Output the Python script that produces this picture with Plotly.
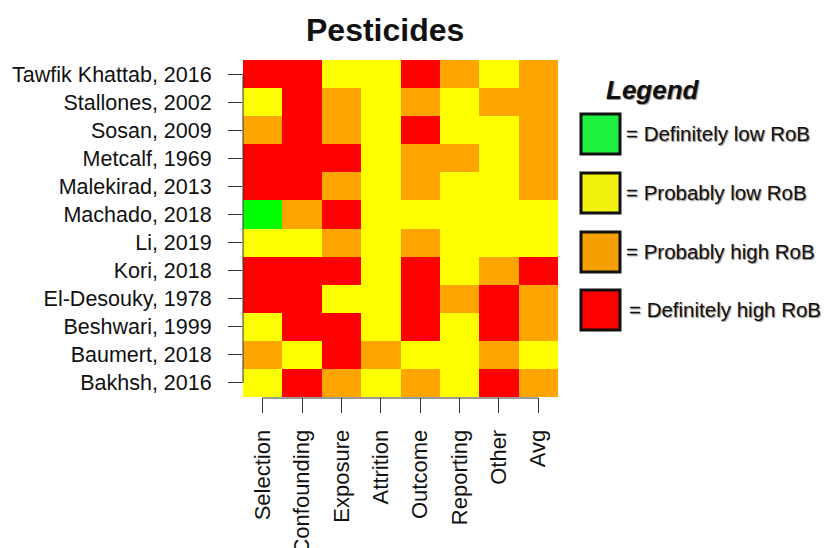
import plotly.graph_objects as go

# Data
studies = ["Tawfik Khattab, 2016", "Stallones, 2002", "Sosan, 2009", "Metcalf, 1969",
           "Malekirad, 2013", "Machado, 2018", "Li, 2019", "Kori, 2018",
           "El-Desouky, 1978", "Beshwari, 1999", "Baumert, 2018", "Bakhsh, 2016"]
domains = ["Selection", "Confounding", "Exposure", "Attrition", "Outcome",
           "Reporting", "Other", "Avg"]
# 1 = Definitely low, 2 = Probably low, 3 = Probably high, 4 = Definitely high
ratings = [
    [4, 4, 2, 2, 4, 3, 2, 3],
    [2, 4, 3, 2, 3, 2, 3, 3],
    [3, 4, 3, 2, 4, 2, 2, 3],
    [4, 4, 4, 2, 3, 3, 2, 3],
    [4, 4, 3, 2, 3, 2, 2, 3],
    [1, 3, 4, 2, 2, 2, 2, 2],
    [2, 2, 3, 2, 3, 2, 2, 2],
    [4, 4, 4, 2, 4, 2, 3, 4],
    [4, 4, 2, 2, 4, 3, 4, 3],
    [2, 4, 4, 2, 4, 2, 4, 3],
    [3, 2, 4, 3, 2, 2, 3, 2],
    [2, 4, 3, 2, 3, 2, 4, 3],
]
legend_labels = ["= Definitely low RoB", "= Probably low RoB",
                 "= Probably high RoB", "= Definitely high RoB"]
cell_colors = ["#00FF00", "#FFFF00", "#FFA500", "#FF0000"]
legend_colors = ["#1EF040", "#F2F20E", "#F5A000", "#FF0000"]

colorscale = [
    [0.0, cell_colors[0]], [1/6, cell_colors[0]],
    [1/6, cell_colors[1]], [0.5, cell_colors[1]],
    [0.5, cell_colors[2]], [5/6, cell_colors[2]],
    [5/6, cell_colors[3]], [1.0, cell_colors[3]],
]

fig = go.Figure(go.Heatmap(
    z=ratings, x=domains, y=studies, zmin=1, zmax=4,
    colorscale=colorscale, showscale=False, xgap=0, ygap=0,
    hoverinfo="x+y+z"))

# The page body has an 8px margin; work in page pixels and subtract it.
OFF = 8
W, H = 829 - OFF, 548 - OFF
PL, PR, PT, PB = 243, 558, 60, 397  # plot area in page pixels
L, R, T, B = PL - OFF, W - (PR - OFF), PT - OFF, H - (PB - OFF)
font_fam = "Liberation Sans, Arial, sans-serif"

fig.update_layout(
    width=W, height=H,
    margin=dict(l=L, r=R, t=T, b=B, pad=0, autoexpand=False),
    plot_bgcolor="white", paper_bgcolor="white",
    showlegend=False,
    font=dict(family=font_fam, color="#111111"),
)
fig.update_xaxes(
    type="category", range=[-0.5, 7.5], showgrid=False, zeroline=False,
    showline=False, ticks="outside", ticklen=15, tickwidth=1, tickcolor="#333333",
    tickangle=-90, tickfont=dict(size=22, family=font_fam, color="#111111"),
    ticklabelstandoff=8, automargin=False,
)
fig.update_yaxes(
    type="category", range=[11.5, -0.5], showgrid=False, zeroline=False,
    showline=False, ticks="outside", ticklen=14, tickwidth=1, tickcolor="#333333",
    tickfont=dict(size=21.5, family=font_fam, color="#111111"),
    ticklabelstandoff=12, automargin=False,
)

pw, ph = PR - PL, PB - PT
def px(x):
    return (x - PL) / pw
def py(y):
    return 1 - (y - PT) / ph

shapes = [
    # R-style axis lines spanning first to last tick
    dict(type="line", xref="x", yref="paper", x0=0, x1=7, y0=py(398), y1=py(398),
         line=dict(color="#333333", width=1)),
    dict(type="line", xref="paper", yref="y", x0=0, x1=0, y0=0, y1=11,
         line=dict(color="#333333", width=1)),
]
shadow = "1px 1px 1px rgba(0,0,0,0.45)"
annotations = [
    dict(text="<b>Pesticides</b>", xref="paper", yref="paper",
         x=px(385), y=py(30),
         xanchor="center", yanchor="middle", showarrow=False,
         font=dict(size=32, family=font_fam, color="#111111")),
    dict(text="<b><i>Legend</i></b>", xref="paper", yref="paper",
         x=px(604), y=py(90),
         xanchor="left", yanchor="middle", showarrow=False,
         font=dict(size=26, family=font_fam, color="#111111", shadow=shadow)),
]

box_tops = [113, 172, 231, 289]
text_x = [624, 624, 624, 627]
for i, lab in enumerate(legend_labels):
    y0 = box_tops[i]
    shapes.append(dict(type="rect", xref="paper", yref="paper",
                       x0=px(581), x1=px(620), y0=py(y0 + 41), y1=py(y0 + 1),
                       fillcolor=legend_colors[i],
                       line=dict(color="#111111", width=3)))
    annotations.append(dict(text=lab, xref="paper", yref="paper",
                            x=px(text_x[i]), y=py(y0 + 20),
                            xanchor="left", yanchor="middle", showarrow=False,
                            font=dict(size=20.5, family=font_fam, color="#111111",
                                      shadow=shadow)))

fig.update_layout(shapes=shapes, annotations=annotations)
fig.write_html("out.html")
